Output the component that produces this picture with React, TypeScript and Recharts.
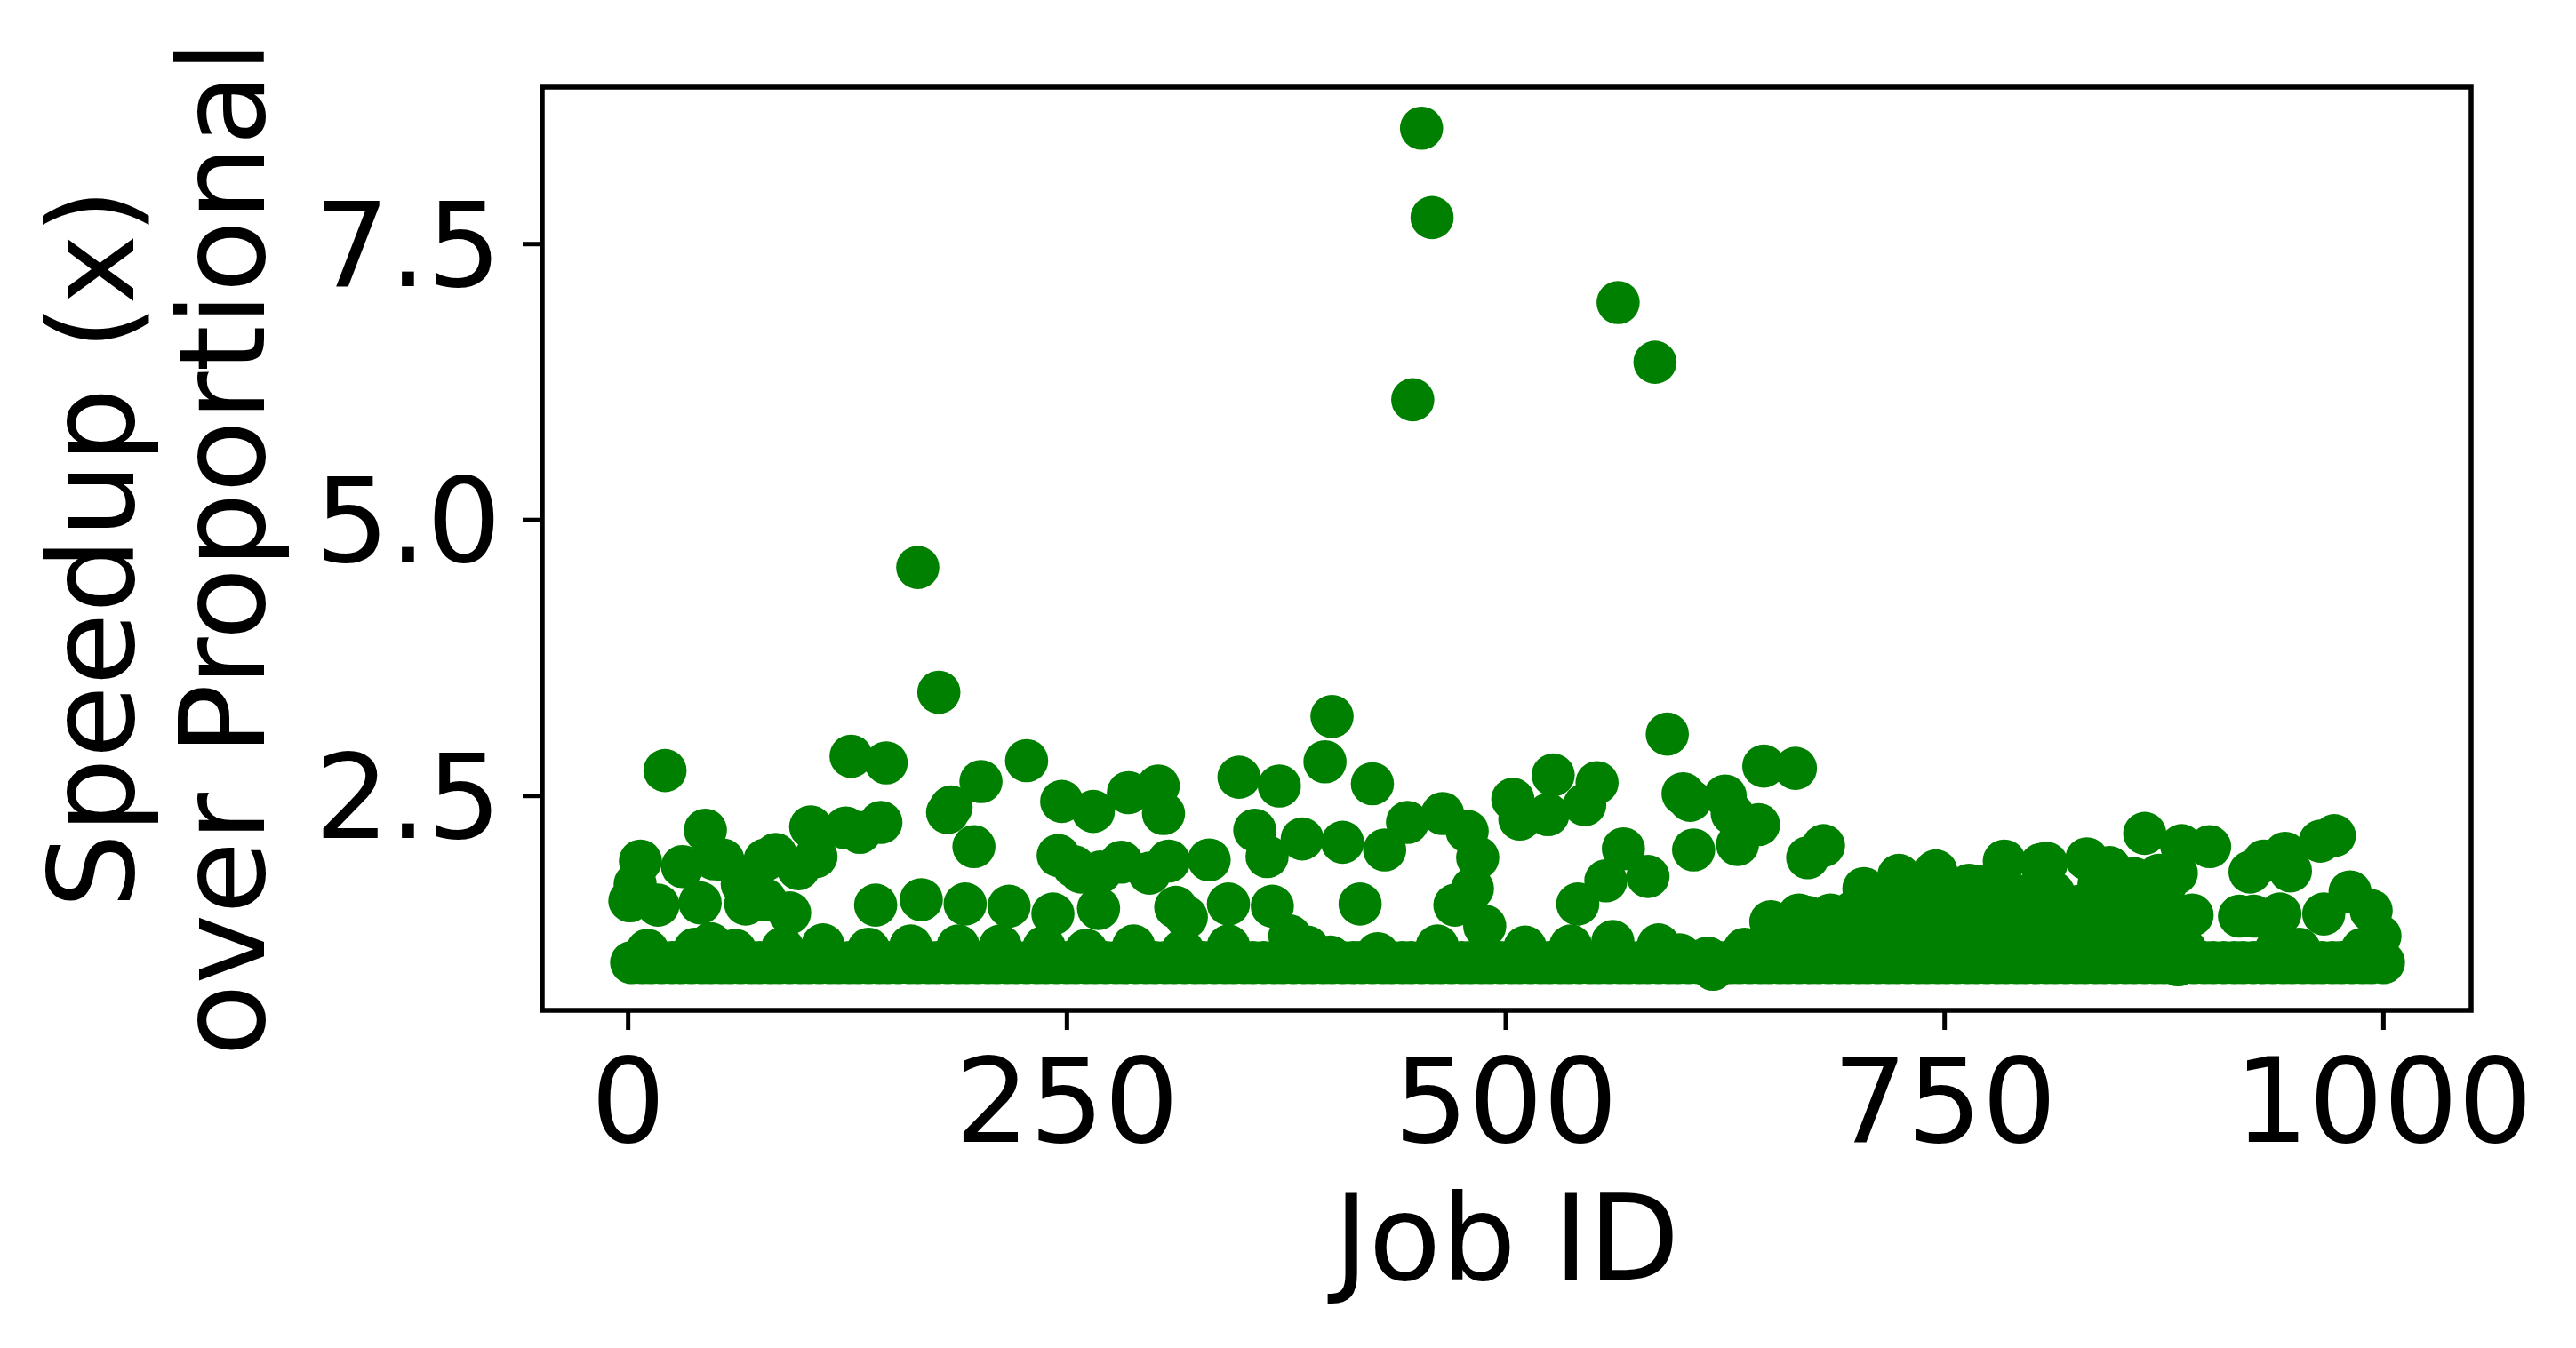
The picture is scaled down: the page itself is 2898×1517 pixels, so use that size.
import { ScatterChart, Scatter, XAxis, YAxis, ReferenceArea, Label } from 'recharts';

// jobs sitting on the speedup = 1 floor
const floorIds = [
  2, 8, 13, 19, 25, 30, 36, 42, 47, 53, 58, 64, 70, 75, 81, 86, 92, 98, 103, 109,
  115, 120, 126, 131, 137, 143, 148, 154, 160, 165, 171, 176, 182, 188, 193, 199, 205, 210, 216, 221,
  227, 233, 238, 244, 250, 255, 261, 266, 272, 278, 283, 289, 295, 300, 306, 311, 317, 323, 328, 334,
  340, 345, 351, 356, 362, 368, 373, 379, 385, 390, 396, 401, 407, 413, 418, 424, 430, 435, 441, 446,
  452, 458, 463, 469, 475, 480, 486, 491, 497, 503, 508, 514, 520, 525, 531, 536, 542, 548, 553, 559,
  565, 570, 576, 581, 587, 593, 598, 604, 610, 622, 628, 633, 639, 645, 650, 656, 661, 667, 673, 678,
  684, 690, 695, 701, 706, 712, 718, 723, 729, 735, 740, 746, 751, 757, 763, 768, 774, 780, 785, 791,
  796, 802, 808, 813, 819, 825, 830, 836, 841, 847, 853, 858, 864, 870, 875, 881, 886, 892, 898, 903,
  909, 915, 920, 926, 931, 937, 943, 948, 954, 960, 965, 971, 976, 982, 988, 993, 1000,
];
const floorSpeedup = 0.99;

// everything above the floor, same order in both arrays
const jobIds = [
  452, 458, 447, 564, 585, 165, 177, 401, 397, 592,
  21, 127, 147, 201, 227, 184, 182, 197, 247, 265,
  285, 302, 305, 348, 357, 44, 104, 124, 132, 144,
  107, 97, 84, 78, 54, 49, 31, 7, 4, 1,
  17, 41, 67, 65, 78, 92, 141, 167, 192, 217,
  242, 268, 245, 254, 258, 269, 281, 297, 308, 331,
  312, 318, 342, 11, 38, 47, 61, 88, 111, 137,
  161, 188, 212, 237, 261, 288, 316, 342,
  424, 371, 364, 384, 407, 431, 444, 464, 478, 484,
  481, 471, 488, 367, 417, 377, 387, 400, 427, 461,
  511, 537, 561, 587, 599, 615, 618, 636, 504, 508,
  524, 527, 552, 545, 601, 605, 625, 629, 644, 632,
  607, 647, 665, 672, 681, 567, 557, 581, 541,
  651, 667, 704, 724, 745, 764, 784, 805, 808, 831,
  844, 864, 868, 885, 901, 882, 891, 861, 887, 883,
  918, 926, 941, 924, 932, 944, 947, 964, 972, 966,
  981, 993, 998, 988, 952, 939, 801, 827, 782,
  655, 660, 672, 678, 685, 692, 698, 704, 710, 716,
  722, 728, 734, 740, 746, 752, 758, 764, 770, 776,
  782, 788, 794, 808, 815, 822, 834, 840, 846, 852,
  858, 864, 872, 878, 770, 790, 812, 838, 850, 858,
  872, 876,
  688, 696, 703, 711, 719, 726, 733, 741, 749, 756,
  763, 771, 778, 786, 793, 800, 807, 814, 821, 829,
  836, 843, 850, 857, 865, 873, 732, 755, 778, 800,
  820, 845,
];
const speedups = [
  8.55, 7.74, 6.09, 6.97, 6.43, 4.57, 3.44, 3.22, 2.81, 3.06,
  2.73, 2.86, 2.8, 2.63, 2.82, 2.4, 2.35, 2.04, 2.45, 2.36,
  2.53, 2.59, 2.34, 2.67, 2.19, 2.19, 2.22, 2.21, 2.17, 2.26,
  1.95, 1.84, 1.97, 1.92, 1.92, 1.93, 1.86, 1.91, 1.7, 1.55,
  1.51, 1.53, 1.52, 1.7, 1.56, 1.44, 1.51, 1.56, 1.52, 1.5,
  1.43, 1.48, 1.96, 1.86, 1.81, 1.81, 1.9, 1.8, 1.91, 1.92,
  1.49, 1.4, 1.52, 1.1, 1.11, 1.16, 1.1, 1.12, 1.15, 1.11,
  1.14, 1.14, 1.14, 1.13, 1.1, 1.14, 1.1, 1.14,
  2.61, 2.59, 1.95, 2.11, 2.08, 2.01, 2.26, 2.34, 2.18, 1.94,
  1.66, 1.51, 1.32, 1.5, 1.52, 1.23, 1.13, 1.04, 1.07, 1.14,
  1.13, 1.14, 1.18, 1.15, 1.06, 1.03, 0.93, 1.11, 2.47, 2.29,
  2.33, 2.69, 2.62, 2.42, 2.52, 2.46, 2.5, 2.34, 2.24, 2.06,
  2.01, 2.77, 2.75, 1.94, 2.05, 2.02, 1.73, 1.77, 1.52,
  1.36, 1.42, 1.66, 1.78, 1.82, 1.69, 1.91, 1.88, 1.89, 1.93,
  1.85, 2.16, 1.55, 2.05, 2.04, 1.8, 1.42, 1.15, 1.11, 0.97,
  1.41, 1.41, 1.43, 1.81, 1.91, 1.98, 1.82, 2.09, 2.14, 1.43,
  1.63, 1.46, 1.23, 1.11, 1.11, 1.11, 1.4, 1.5, 1.54,
  1.3, 1.2, 1.4, 1.32, 1.42, 1.3, 1.45, 1.35, 1.5, 1.4,
  1.55, 1.3, 1.48, 1.55, 1.35, 1.45, 1.58, 1.5, 1.62, 1.3,
  1.55, 1.4, 1.25, 1.3, 1.2, 1.35, 1.4, 1.3, 1.5, 1.55,
  1.4, 1.3, 1.6, 1.4, 1.68, 1.6, 1.62, 1.7, 1.72, 1.75,
  1.78, 1.7,
  1.18, 1.24, 1.15, 1.22, 1.16, 1.26, 1.18, 1.24, 1.16, 1.25,
  1.18, 1.22, 1.16, 1.26, 1.4, 1.2, 1.5, 1.46, 1.24, 1.18,
  1.2, 1.24, 1.22, 1.18, 1.2, 1.25, 1.38, 1.42, 1.44, 1.55,
  1.5, 1.42,
];

const xTicks = [0, 250, 500, 750, 1000];
const yTicks = [2.5, 5, 7.5];

const points = [
  ...floorIds.map((id) => ({ id, speedup: floorSpeedup })),
  ...jobIds.map((id, i) => ({ id, speedup: speedups[i] })),
];

const FONT = '"DejaVu Sans"';

const Dot = (props: any) => <circle cx={props.cx} cy={props.cy} r={24.3} fill="#008000" />;

export default function App() {
  return (
    <div style={{ position: 'absolute', left: 0, top: 0, background: '#fff' }}>
      <ScatterChart width={2898} height={1517} margin={{ top: 98, right: 118, bottom: 0, left: 0 }}>
        <XAxis
          type="number"
          dataKey="id"
          domain={[-48.95, 1049.95]}
          ticks={xTicks}
          height={380}
          axisLine={false}
          tickSize={22}
          tickMargin={32}
          tickLine={{ stroke: '#000', strokeWidth: 5 }}
          tick={{ fill: '#000', fontSize: 132, fontFamily: FONT }}
          interval={0}
        >
          <Label
            content={() => (
              <text x={1695} y={1440} textAnchor="middle" fontSize={133} fontFamily={FONT} fill="#000">
                Job ID
              </text>
            )}
          />
        </XAxis>
        <YAxis
          type="number"
          dataKey="speedup"
          domain={[0.557, 8.923]}
          ticks={yTicks}
          width={610}
          axisLine={false}
          tickSize={22}
          tickMargin={24}
          tickLine={{ stroke: '#000', strokeWidth: 5 }}
          tick={{ fill: '#000', fontSize: 132, fontFamily: FONT }}
          tickFormatter={(v: number) => v.toFixed(1)}
          interval={0}
        >
          <Label
            content={() => (
              <g fontSize={133} fontFamily={FONT} fill="#000" textAnchor="middle">
                <text transform="translate(150 617) rotate(-90)">Speedup (x)</text>
                <text transform="translate(297 617) rotate(-90)">over Proportional</text>
              </g>
            )}
          />
        </YAxis>
        <ReferenceArea
          x1={-48.95}
          x2={1049.95}
          y1={0.557}
          y2={8.923}
          fill="none"
          stroke="#000"
          strokeWidth={5.5}
          ifOverflow="visible"
        />
        <Scatter data={points} shape={Dot} isAnimationActive={false} />
      </ScatterChart>
    </div>
  );
}
